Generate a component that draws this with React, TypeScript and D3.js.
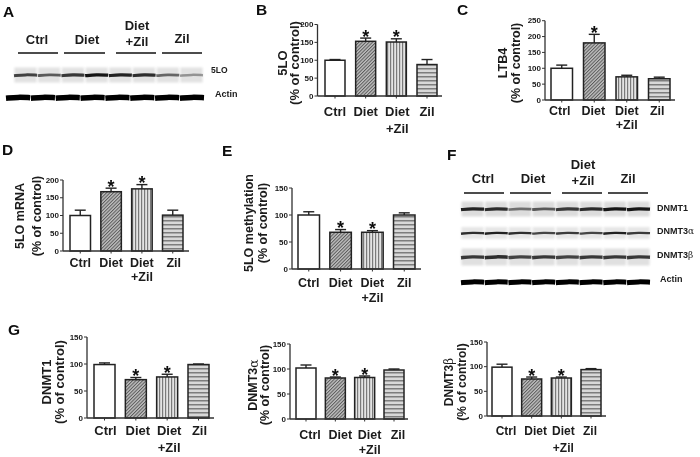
import React from "react";
import * as d3 from "d3";

const categories = ["Ctrl", "Diet", "Diet", "Zil"];
const secondLine = ["", "", "+Zil", ""];
const fills = ["#fff", "url(#pDiet)", "url(#pCombo)", "url(#pZil)"];

const b5loValues = [100, 153, 151, 88];
const b5loErrors = [2, 9, 9, 14];
const cLtbValues = [100, 180, 73, 67];
const cLtbErrors = [10, 27, 5, 5];
const dMrnaValues = [100, 167, 175, 101];
const dMrnaErrors = [15, 10, 12, 14];
const eMethValues = [100, 68, 68, 100];
const eMethErrors = [6, 5, 3, 4];
const g1Values = [99, 71, 76, 99];
const g1Errors = [3, 4, 5, 1];
const g2Values = [102, 82, 83, 98];
const g2Errors = [6, 2, 3, 2];
const g3Values = [99, 75, 77, 94];
const g3Errors = [6, 4, 2, 2];

const ticks200 = [0, 50, 100, 150, 200];
const ticks250 = [0, 50, 100, 150, 200, 250];
const ticks150 = [0, 50, 100, 150];

const a5lo = [0.7, 0.6, 0.75, 0.9, 0.85, 0.8, 0.55, 0.35];
const aActin = [1, 1, 1, 1, 1, 1, 1, 1];
const fDnmt1 = [0.85, 0.8, 0.5, 0.6, 0.75, 0.8, 0.9, 0.9];
const fDnmt3a = [0.8, 0.85, 0.8, 0.7, 0.75, 0.7, 0.85, 0.75];
const fDnmt3b = [0.75, 0.8, 0.7, 0.75, 0.7, 0.75, 0.75, 0.75];
const fActin = [1, 1, 1, 1, 1, 1, 1, 1];

const ARIAL = "'Liberation Sans', Arial, sans-serif";
const TEXT = "#1a1a1a";

type ChartProps = {
  values: number[]; errors: number[]; stars: number[]; ticks: number[];
  axisX: number; axisEnd: number; y0: number; yTop: number; max: number;
  barL: number; barR: number; barW: number;
  title: React.ReactNode; titleX: number[]; titleY: number;
  labelY: number[]; labelDx: number[]; fs: number;
};

function BarChart(p: ChartProps) {
  const y = d3.scaleLinear().domain([0, p.max]).range([p.y0, p.yTop]);
  const step = (p.barR - p.barL - p.barW) / 3;
  const x = d3.scaleBand<number>().domain([0, 1, 2, 3]).range([p.barL, p.barR])
    .paddingInner(1 - p.barW / step).paddingOuter(0);
  const w = x.bandwidth();
  return (
    <g>
      {p.values.map((v, i) => {
        const cx = x(i)! + w / 2;
        const top = y(v + p.errors[i]);
        return (
          <g key={i}>
            <line x1={cx} x2={cx} y1={y(v)} y2={top} stroke="#222" strokeWidth={1.4} />
            <line x1={cx - 5.5} x2={cx + 5.5} y1={top} y2={top} stroke="#222" strokeWidth={1.4} />
            <rect x={x(i)} y={y(v)} width={w} height={p.y0 - y(v)} fill={fills[i]} stroke="#222" strokeWidth={1.5} />
            <line x1={cx} x2={cx} y1={p.y0} y2={p.y0 + 2.5} stroke="#333" strokeWidth={1} />
            {p.stars.includes(i) && (
              <text x={cx} y={top + 4.5} textAnchor="middle" fontFamily={ARIAL} fontWeight="bold" fontSize={18} fill="#111">*</text>
            )}
            <text x={cx + p.labelDx[i]} y={p.labelY[0]} dominantBaseline="central" textAnchor="middle"
              fontFamily={ARIAL} fontWeight="bold" fontSize={p.fs} fill={TEXT}>{categories[i]}</text>
            {secondLine[i] && (
              <text x={cx + p.labelDx[i]} y={p.labelY[1]} dominantBaseline="central" textAnchor="middle"
                fontFamily={ARIAL} fontWeight="bold" fontSize={p.fs} fill={TEXT}>{secondLine[i]}</text>
            )}
          </g>
        );
      })}
      <line x1={p.axisX} x2={p.axisX} y1={p.yTop} y2={p.y0} stroke="#333" strokeWidth={1.3} />
      <line x1={p.axisX} x2={p.axisEnd} y1={p.y0} y2={p.y0} stroke="#333" strokeWidth={1.3} />
      {p.ticks.map((t) => (
        <g key={t}>
          <line x1={p.axisX - 3} x2={p.axisX} y1={y(t)} y2={y(t)} stroke="#333" strokeWidth={1} />
          <text x={p.axisX - 4} y={y(t)} textAnchor="end" dominantBaseline="central"
            fontFamily={ARIAL} fontWeight="bold" fontSize={8} fill={TEXT}>{t}</text>
        </g>
      ))}
      <text transform={`translate(${p.titleX[0]},${p.titleY}) rotate(-90)`} textAnchor="middle" dominantBaseline="central"
        fontFamily={ARIAL} fontWeight="bold" fontSize={p.fs} fill={TEXT}>{p.title}</text>
      <text transform={`translate(${p.titleX[1]},${p.titleY}) rotate(-90)`} textAnchor="middle" dominantBaseline="central"
        fontFamily={ARIAL} fontWeight="bold" fontSize={p.fs} fill={TEXT}>(% of control)</text>
    </g>
  );
}

type RowProps = { levels: number[]; xL: number; xR: number; y: number; bgH: number; bg: string; bandH: number };
function BlotRow({ levels, xL, xR, y, bgH, bg, bandH }: RowProps) {
  const x = d3.scaleBand<number>().domain(d3.range(levels.length)).range([xL, xR]).paddingInner(0.03);
  const line = d3.line<[number, number]>().curve(d3.curveBasis);
  return (
    <g>
      {bgH > 0 && levels.map((_, i) => (
        <rect key={i} x={x(i)! + 0.4} y={y - bgH / 2} width={x.bandwidth() - 0.8} height={bgH} fill={bg} filter="url(#soft)" />
      ))}
      {levels.map((v, i) => {
        const l = x(i)!, r = l + x.bandwidth(), m = (l + r) / 2;
        return (
          <path key={i} d={line([[l, y + 0.7], [m, y - 0.4], [r, y + 0.2]])!} fill="none"
            stroke="#000" strokeOpacity={v} strokeWidth={bandH * (0.6 + 0.4 * v)} strokeLinecap="butt" filter="url(#band)" />
        );
      })}
    </g>
  );
}

function Lab({ x, y, t, fs = 13, a = "middle" }: { x: number; y: number; t: React.ReactNode; fs?: number; a?: string }) {
  return <text x={x} y={y} textAnchor={a as any} dominantBaseline="central" fontFamily={ARIAL} fontWeight="bold" fontSize={fs} fill={TEXT}>{t}</text>;
}
function Letter({ x, y, t }: { x: number; y: number; t: string }) {
  return <text x={x} y={y} fontFamily={ARIAL} fontWeight="bold" fontSize={15.5} fill="#111">{t}</text>;
}
const Greek = ({ c }: { c: string }) => <tspan fontFamily="'DejaVu Serif', 'Liberation Serif', serif" fontWeight="normal">{c}</tspan>;

const rules = [[18, 58], [64, 105], [116, 156], [162, 202]];
const rulesF = [[464, 504], [510, 551], [562, 602], [608, 648]];

export default function App() {
  return (
    <svg width={700} height={457} style={{ position: "absolute", left: 0, top: 0, background: "#fff" }}>
      <defs>
        <pattern id="pDiet" width={2.4} height={2.4} patternUnits="userSpaceOnUse" patternTransform="rotate(-45)">
          <rect width={2.4} height={2.4} fill="#c0c0c0" />
          <rect width={2.4} height={1} fill="#5a5a5a" />
        </pattern>
        <pattern id="pCombo" width={3} height={3} patternUnits="userSpaceOnUse">
          <rect width={3} height={3} fill="#e4e4e4" />
          <rect width={1.2} height={3} fill="#7a7a7a" />
        </pattern>
        <pattern id="pZil" width={4} height={4} patternUnits="userSpaceOnUse">
          <rect width={4} height={4} fill="#d8d8d8" />
          <rect width={4} height={1.5} fill="#7d7d7d" />
        </pattern>
        <filter id="soft" x="-10%" y="-30%" width="120%" height="160%"><feGaussianBlur stdDeviation="0.8" /></filter>
        <filter id="band" filterUnits="userSpaceOnUse" x="0" y="0" width="700" height="457"><feGaussianBlur stdDeviation="0.7" /></filter>
        <filter id="ink" filterUnits="userSpaceOnUse" x="0" y="0" width="700" height="457"><feGaussianBlur stdDeviation="0.3" /></filter>
      </defs>
      <g filter="url(#ink)">
        <Letter x={3} y={17} t="A" />
        <Letter x={256} y={14.5} t="B" />
        <Letter x={457} y={14.5} t="C" />
        <Letter x={2} y={155} t="D" />
        <Letter x={222} y={156} t="E" />
        <Letter x={447} y={160} t="F" />
        <Letter x={8} y={335} t="G" />

        {rules.map((r, i) => <line key={i} x1={r[0]} x2={r[1]} y1={53} y2={53} stroke="#111" strokeWidth={1.6} />)}
        <Lab x={37} y={39} t="Ctrl" /><Lab x={87} y={39} t="Diet" /><Lab x={137} y={25} t="Diet" /><Lab x={137} y={41} t="+Zil" /><Lab x={182} y={38} t="Zil" />
        <BlotRow levels={a5lo} xL={14} xR={203} y={75} bgH={15} bg="#e2e2e2" bandH={3.4} />
        <BlotRow levels={aActin} xL={6} xR={204} y={97.5} bgH={0} bg="#fff" bandH={5.5} />
        <Lab x={211} y={70} t="5LO" fs={8.5} a="start" />
        <Lab x={215} y={94} t="Actin" fs={9} a="start" />

        <BarChart values={b5loValues} errors={b5loErrors} stars={[1, 2]} ticks={ticks200} max={200}
          axisX={317.5} axisEnd={442} y0={96} yTop={24.5} barL={325} barR={437} barW={20}
          title="5LO" titleX={[282, 294]} titleY={63} labelY={[111, 128]} labelDx={[0, 0, 1, 0]} fs={13} />
        <BarChart values={cLtbValues} errors={cLtbErrors} stars={[1]} ticks={ticks250} max={250}
          axisX={545} axisEnd={675} y0={100} yTop={20.7} barL={551} barR={670} barW={21.5}
          title="LTB4" titleX={[503, 516]} titleY={63} labelY={[111, 125]} labelDx={[-2, -1, 0, -2]} fs={12.5} />
        <BarChart values={dMrnaValues} errors={dMrnaErrors} stars={[1, 2]} ticks={ticks200} max={200}
          axisX={63} axisEnd={189} y0={251} yTop={180} barL={70} barR={183} barW={20.5}
          title="5LO mRNA" titleX={[20, 37]} titleY={216} labelY={[263, 277]} labelDx={[0, 0, 0, 1]} fs={12.5} />
        <BarChart values={eMethValues} errors={eMethErrors} stars={[1, 2]} ticks={ticks150} max={150}
          axisX={292} axisEnd={421} y0={269} yTop={188} barL={298} barR={415} barW={21.5}
          title="5LO methylation" titleX={[249, 263]} titleY={223} labelY={[283, 298]} labelDx={[0, 0, 0, 0]} fs={12.5} />

        {rulesF.map((r, i) => <line key={i} x1={r[0]} x2={r[1]} y1={193} y2={193} stroke="#111" strokeWidth={1.6} />)}
        <Lab x={483} y={178} t="Ctrl" /><Lab x={533} y={178} t="Diet" /><Lab x={583} y={164} t="Diet" /><Lab x={583} y={180} t="+Zil" /><Lab x={628} y={178} t="Zil" />
        <BlotRow levels={fDnmt1} xL={461} xR={650} y={209} bgH={15} bg="#dcdcdc" bandH={3.4} />
        <BlotRow levels={fDnmt3a} xL={461} xR={650} y={233} bgH={12} bg="#e6e6e6" bandH={2.6} />
        <BlotRow levels={fDnmt3b} xL={461} xR={650} y={257} bgH={17} bg="#e0e0e0" bandH={3.8} />
        <BlotRow levels={fActin} xL={461} xR={650} y={282} bgH={0} bg="#fff" bandH={5} />
        <Lab x={657} y={208} t="DNMT1" fs={9} a="start" />
        <Lab x={657} y={231} t={<>DNMT3<Greek c="α" /></>} fs={9} a="start" />
        <Lab x={657} y={255} t={<>DNMT3<Greek c="β" /></>} fs={9} a="start" />
        <Lab x={660} y={279} t="Actin" fs={9} a="start" />

        <BarChart values={g1Values} errors={g1Errors} stars={[1, 2]} ticks={ticks150} max={150}
          axisX={87} axisEnd={214} y0={418} yTop={337} barL={94} barR={209} barW={21}
          title="DNMT1" titleX={[46, 59]} titleY={382} labelY={[430, 447]} labelDx={[1, 2, 2, 1]} fs={13} />
        <BarChart values={g2Values} errors={g2Errors} stars={[1, 2]} ticks={ticks150} max={150}
          axisX={290} axisEnd={408} y0={419} yTop={344} barL={296} barR={404} barW={20}
          title={<>DNMT3<Greek c="α" /></>} titleX={[253, 265]} titleY={385} labelY={[435, 449.5]} labelDx={[4, 5, 5, 4]} fs={12.5} />
        <BarChart values={g3Values} errors={g3Errors} stars={[1, 2]} ticks={ticks150} max={150}
          axisX={487} axisEnd={606} y0={416} yTop={342} barL={492} barR={601} barW={20}
          title={<>DNMT3<Greek c="β" /></>} titleX={[449, 462]} titleY={382} labelY={[431, 448]} labelDx={[4, 4, 2, -1]} fs={12} />
      </g>
    </svg>
  );
}
